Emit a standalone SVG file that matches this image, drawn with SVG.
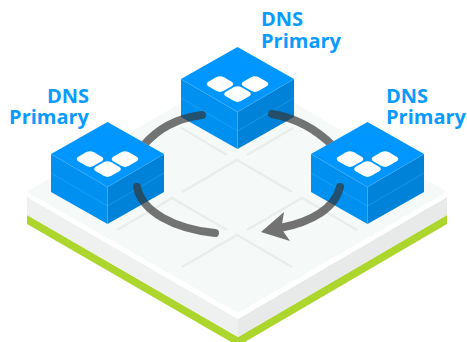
<svg xmlns="http://www.w3.org/2000/svg" width="467" height="342" viewBox="0 0 467 342">
<defs>
<style>
.t{font-family:"Open Sans","Noto Sans",sans-serif;font-weight:700;font-size:20px;fill:#0a9bff}
.e{text-anchor:end}
.grid{fill:none;stroke:#e9eeeb;stroke-width:2.6}
.top{fill:#0096ff}
.l{fill:#0090f0}
.r{fill:#0082d8}
.seam{fill:none;stroke:#4fb6f5;stroke-width:.6;opacity:.6}
.k{fill:#fff}
.arc{fill:none;stroke:#333;stroke-width:8;stroke-linecap:round}
.head{fill:#333}
.arw{opacity:.68}
</style>
<g id="cube">
<path class="top" d="M56.500 0L113 32L56.500 65L0 32Z"/>
<path class="l" d="M0 32L56.500 65V102L0 70Z"/>
<path class="r" d="M113 32L56.500 65V102L113 70Z"/>
<path class="seam" d="M0 32L56.500 65L113 32M0 51L56.500 84L113 51M56.500 65V102"/>
<rect class="k" x="-9" y="-9" width="18" height="18" rx="4.500" transform="matrix(.866 .5 -.866 .5 39 37)"/>
<rect class="k" x="-9" y="-9" width="18" height="18" rx="4.500" transform="matrix(.866 .5 -.866 .5 74 37)"/>
<rect class="k" x="-9" y="-9" width="18" height="18" rx="4.500" transform="matrix(.866 .5 -.866 .5 56.500 47)"/>
</g>
<clipPath id="c1"><path d="M107 122L164 154H240V60H107Z"/></clipPath>
<clipPath id="c3"><path d="M368 122L311 154H240V60H368Z"/></clipPath>
</defs>
<g id="platform">
<path d="M27 215L238 337L447 215V224L238 346L27 224Z" fill="#acd52e"/>
<path d="M27 197L238 319V337L27 215Z" fill="#eef1ef"/>
<path d="M447 197L238 319V337L447 215Z" fill="#e7eae8"/>
<path d="M27 192L238 70L447 192L238 313Z" fill="#f5f9f7"/>
<path d="M27 192L238 313L447 192V197L238 319L27 197Z" fill="#fff"/>
<path class="grid" d="M117 230L172 198L227 230M182 192L237 160L292 192M182 267L237 235L292 267M180 127L227 155M247 155L293 128M247 230L302 198L357 230"/>
</g>
<use id="node-top" href="#cube" x="181" y="47"/>
<use id="node-left" href="#cube" x="51" y="122"/>
<use id="node-right" href="#cube" x="311" y="122"/>
<g id="labels">
<g id="label-top"><text class="t" x="261" y="26">DNS</text><text class="t" x="261" y="48">Primary</text></g>
<g id="label-left"><text class="t e" x="89" y="103">DNS</text><text class="t e" x="89" y="124">Primary</text></g>
<g id="label-right"><text class="t" x="386" y="103">DNS</text><text class="t" x="386" y="124">Primary</text></g>
</g>
<g id="connectors">
<g class="arw" clip-path="url(#c1)"><path class="arc" d="M202 115C178 118 158 128 143 146"/></g>
<g class="arw" clip-path="url(#c3)"><path class="arc" d="M272 114C296 118 317 130 333 146"/></g>
<g class="arw"><path class="arc" d="M137 187C142 212 175 229 215 233"/></g>
<g class="arw"><path class="arc" d="M340 187C335 208 312 222 280 228"/><path class="head" d="M261 232L284 212L282 224L283 231L290 241Z"/></g>
</g>
</svg>
